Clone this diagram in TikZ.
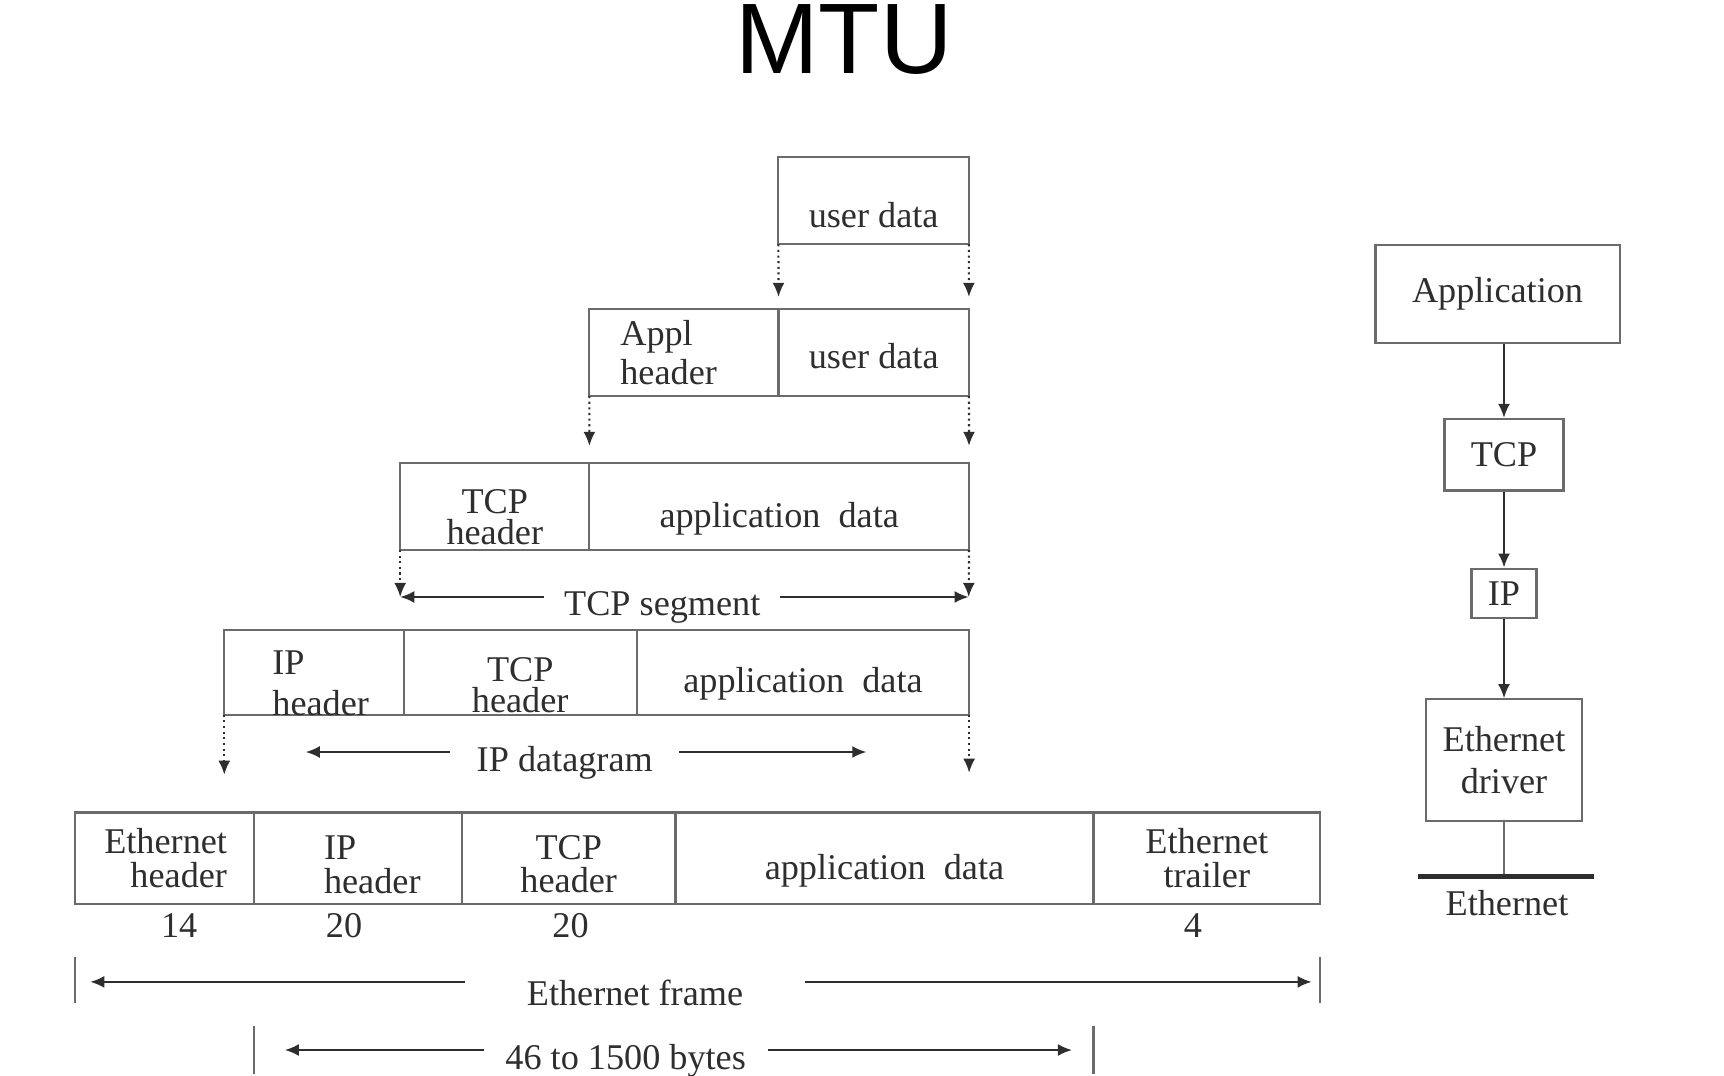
\documentclass[tikz,border=0pt]{standalone}
\usepackage{fontspec}
\setmainfont{Liberation Serif}
\newfontfamily\titlefont{Liberation Sans}
\usepackage{xcolor}
\usetikzlibrary{arrows.meta, positioning}

\definecolor{boxline}{gray}{0.42}
\definecolor{ink}{gray}{0.18}

\begin{document}
\begin{tikzpicture}[
        x=0.01cm, y=-0.01cm,
        >={Latex[length=4pt,width=3.4pt]},
        txt/.style={font=\fontsize{10.3}{11}\selectfont, text=ink},
        lead/.style={font=\fontsize{10.3}{#1}\selectfont},
        field/.style={rectangle, draw=boxline, line width=0.6pt, outer sep=0pt, inner sep=1pt,
            minimum height=0.87cm, align=center, txt},
        low/.style={text height=#1, text depth=0pt},
        stackbox/.style={rectangle, draw=boxline, line width=0.6pt, inner sep=1pt, align=center, txt},
        dotarrow/.style={densely dotted, line width=0.6pt, draw=ink, ->},
        sizearrow/.style={<->, line width=0.6pt, draw=ink},
        spanlabel/.style={txt, fill=white, inner ysep=1pt, yshift=-3pt},
        tick/.style={draw=boxline, line width=0.6pt},
        bytecount/.style={txt, inner sep=1pt}
    ]
        \fill[white] (0,0) rectangle (1724,1076);
        \useasboundingbox (0,0) rectangle (1724,1076);

        \node[font=\titlefont\fontsize{28.5}{30}\selectfont, text=black, anchor=base] (mtu) at (844,74) {MTU};

        % user data -> appl -> TCP segment
        \node[field, anchor=north west, minimum width=1.903cm, low=15pt] (ud1) at (778.4,157.2) {user data};

        \node[field, anchor=north west, minimum width=1.891cm, text width=1.27cm, inner xsep=0.31cm,
            align=left, lead=10.9pt] (ah2) at (589.3,309) {Appl\\header};
        \node[field, right=0pt of ah2, minimum width=1.903cm, low=9pt] (ud2) {user data};

        \node[field, anchor=north west, minimum width=1.891cm, lead=8.8pt, inner ysep=0pt,
            text height=21.5pt, text depth=0pt] (th3) at (400.2,462.9) {TCP\\header};
        \node[field, right=0pt of th3, minimum width=3.794cm, low=12pt] (ad3) {application\ \ data};

        \draw[dotarrow] (ud1.south west) -- ([yshift=0.12cm]ud2.north west);
        \draw[dotarrow] (ud1.south east) -- ([yshift=0.12cm]ud2.north east);
        \draw[dotarrow] (ah2.south west) -- ([yshift=0.17cm]th3.north east);
        \draw[dotarrow] (ud2.south east) -- ([yshift=0.17cm]ad3.north east);

        \coordinate (segL) at (400.2,597);
        \coordinate (segR) at (968.7,597);
        \draw[dotarrow] (th3.south west) -- (segL);
        \draw[dotarrow] (ad3.south east) -- (segR);
        \draw[sizearrow] (segL) -- node[spanlabel, pos=0.461, inner xsep=5.7pt] (seglbl) {TCP segment} (segR);

        % IP datagram
        \node[field, anchor=north west, minimum width=1.792cm, minimum height=0.847cm, text width=0.83cm,
            inner xsep=0.48cm, inner ysep=0pt, align=left, lead=11.9pt,
            text height=12pt, text depth=11pt] (ih4) at (224.3,630) {IP\\header};
        \node[field, right=0pt of ih4, minimum width=2.331cm, minimum height=0.847cm, lead=8.8pt,
            inner ysep=0pt, text height=22.8pt, text depth=0pt] (th4) {TCP\\header};
        \node[field, right=0pt of th4, minimum width=3.321cm, minimum height=0.847cm, low=11.6pt] (ad4) {application\ \ data};

        \coordinate (dgL) at (305.7,752);
        \coordinate (dgR) at (866.4,752);
        \draw[sizearrow] (dgL) -- node[spanlabel, pos=0.462, inner xsep=7.5pt] (dglbl) {IP datagram} (dgR);
        \draw[dotarrow] (ih4.south west) -- ++(0,60);
        \draw[dotarrow] (ad4.south east) -- ++(0,58);

        % Ethernet frame
        \node[field, anchor=north west, minimum width=1.792cm, minimum height=0.913cm, lead=9.5pt,
            text width=1.25cm, align=right] (eh5) at (74.8,812.5) {Ethernet\\header};
        \node[field, right=0pt of eh5, minimum width=2.078cm, minimum height=0.913cm, lead=9.5pt,
            text width=0.68cm, align=left, text height=9.6pt, text depth=8.7pt] (ih5) {IP\\header};
        \node[field, right=0pt of ih5, minimum width=2.133cm, minimum height=0.913cm, lead=9.4pt,
            text height=19.6pt, text depth=0pt] (th5) {TCP\\header};
        \node[field, right=0pt of th5, minimum width=4.178cm, minimum height=0.913cm, low=12.2pt] (ad5) {application\ \ data};
        \node[field, right=0pt of ad5, minimum width=2.265cm, minimum height=0.913cm, lead=9.5pt] (et5) {Ethernet\\trailer};

        \node[bytecount] (n1) at (179.2,926) {14};
        \node[bytecount] (n2) at (344.1,926) {20};
        \node[bytecount] (n3) at (570.6,926) {20};
        \node[bytecount] (n4) at (1193,926) {4};

        \draw[tick] ([yshift=-0.53cm]eh5.south west) -- ++(0,46);
        \draw[tick] ([yshift=-0.53cm]et5.south east) -- ++(0,46);
        \coordinate (frL) at (90.2,981.9);
        \coordinate (frR) at (1311.7,981.9);
        \draw[sizearrow] (frL) -- node[spanlabel, pos=0.446, inner xsep=17.5pt] (frlbl) {Ethernet frame} (frR);

        \draw[tick] ([yshift=-1.22cm]ih5.south west) -- ++(0,48);
        \draw[tick] ([yshift=-1.22cm]et5.south west) -- ++(0,48);
        \coordinate (byL) at (284.8,1050);
        \coordinate (byR) at (1072,1050);
        \draw[sizearrow] (byL) -- node[spanlabel, pos=0.433, inner xsep=6.2pt] (bylbl) {46 to 1500 bytes} (byR);

        % protocol stack
        \node[stackbox, minimum width=2.44cm, minimum height=0.98cm] (app) at (1497.5,294.1) {Application};
        \node[stackbox, minimum width=1.19cm, minimum height=0.715cm] (tcp) at (1504,454.7) {TCP};
        \node[stackbox, below=0.76cm of tcp, minimum width=0.65cm, minimum height=0.495cm] (ip) {IP};
        \node[stackbox, below=0.79cm of ip, minimum width=1.56cm, minimum height=1.22cm, lead=11.9pt] (drv) {Ethernet\\driver};
        \draw[->, draw=ink, line width=0.6pt] (app.south -| tcp) -- (tcp);
        \draw[->, draw=ink, line width=0.6pt] (tcp) -- (ip);
        \draw[->, draw=ink, line width=0.6pt] (ip) -- (drv);

        \coordinate (wireL) at (1418.4,876.3);
        \coordinate (wireR) at (1594.3,876.3);
        \draw[boxline, line width=0.6pt] (drv) -- (drv |- wireL);
        \draw[ink, line width=1.3pt] (wireL) -- (wireR);
        \node[txt, anchor=north, inner sep=1pt] (wirelbl) at (1507,886) {Ethernet};

    \end{tikzpicture}
\end{document}
